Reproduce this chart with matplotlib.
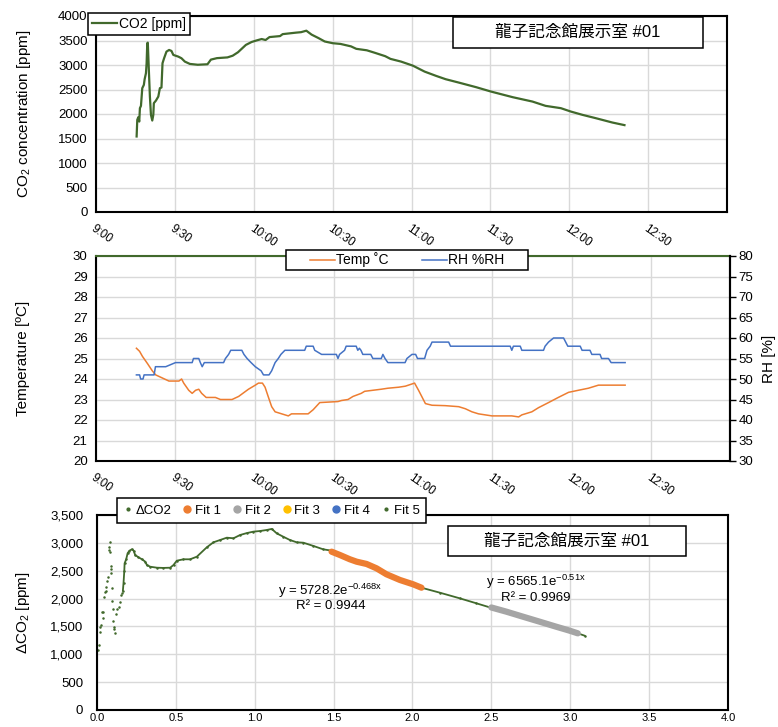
import matplotlib
matplotlib.use('Agg')
import matplotlib.pyplot as plt
from matplotlib.lines import Line2D
from matplotlib.patches import Rectangle
import numpy as np

plt.rcParams['font.family'] = ['Liberation Sans', 'Noto Sans CJK JP']
plt.rcParams['mathtext.fontset'] = 'custom'
plt.rcParams['mathtext.rm'] = 'Liberation Sans'
plt.rcParams['mathtext.it'] = 'Liberation Sans:italic'
plt.rcParams['axes.unicode_minus'] = True

# ---- data (minutes after 9:00) ----
co2_min = [15.45, 15.7, 16.1, 16.45, 16.7, 17.1, 17.6, 18.2, 18.5, 19.0, 19.25, 19.5, 19.7,
           20.1, 20.5, 20.9, 21.4, 21.8, 22.0, 22.8, 23.7, 24.3, 24.9, 25.3, 25.9, 26.8,
           27.8, 28.7, 29.4, 31.3, 32.5, 33.8, 35.7, 38.7, 42.4, 43.7, 46.0, 50.0, 52.0,
           54.0, 57.0, 59.2, 61.0, 63.0, 64.5, 66.0, 70.0, 71.0, 76.0, 78.0, 80.0, 82.0,
           84.6, 87.0, 90.0, 93.0, 97.0, 99.0, 103.0, 106.0, 110.0, 112.0, 116.0, 120.5,
           125.0, 129.4, 133.0, 138.0, 144.6, 150.3, 158.5, 166.0, 171.0, 176.8, 180.6,
           185.0, 190.0, 196.4, 201.0]
co2_ppm = [1541, 1881, 1936, 1846, 2119, 2166, 2527, 2594, 2710, 2833, 3037, 3444, 3456,
           2900, 2356, 1983, 1867, 1983, 2221, 2274, 2356, 2527, 2540, 3037, 3138, 3273,
           3307, 3287, 3206, 3171, 3138, 3069, 3022, 3005, 3015, 3110, 3140, 3155, 3190,
           3260, 3410, 3470, 3500, 3530, 3510, 3570, 3590, 3630, 3660, 3670, 3700, 3620,
           3550, 3480, 3445, 3430, 3380, 3330, 3300, 3250, 3180, 3125, 3070, 2987,
           2865, 2777, 2710, 2641, 2547, 2457, 2343, 2254, 2166, 2119, 2050,
           1983, 1916, 1826, 1773]

temp_min = [15.3, 16.5, 17.6, 19.5, 21.3, 22.6, 25.1, 27.6, 31.4, 32.4, 33.2, 35.1, 36.4,
            37.7, 38.9, 40.0, 41.7, 45.2, 47.1, 51.5, 54.0, 57.7, 60.3, 61.5, 63.0, 64.0,
            65.3, 66.5, 67.8, 70.3, 72.8, 74.0, 80.3, 82.2, 84.7, 91.6, 92.9, 95.4, 97.3,
            100.4, 101.7, 107.9, 110.5, 114.6, 117.1, 120.6, 122.1, 124.7, 127.2, 132.2,
            137.3, 139.8, 142.3, 144.8, 149.9, 157.4, 160.0, 161.2, 165.0, 167.5, 171.3,
            175.0, 178.9, 182.6, 186.4, 190.2, 195.2, 200.3]
temp_c = [25.5, 25.35, 25.1, 24.75, 24.4, 24.2, 24.05, 23.9, 23.9, 24.0, 23.8, 23.45, 23.3,
          23.45, 23.5, 23.3, 23.1, 23.1, 23.0, 23.0, 23.15, 23.5, 23.7, 23.8, 23.8, 23.6,
          23.1, 22.65, 22.4, 22.3, 22.2, 22.3, 22.3, 22.5, 22.85, 22.9, 22.95, 23.0, 23.15,
          23.3, 23.4, 23.5, 23.55, 23.6, 23.65, 23.8, 23.45, 22.8, 22.72, 22.7,
          22.65, 22.55, 22.4, 22.3, 22.2, 22.2, 22.15, 22.25, 22.4, 22.6, 22.85,
          23.1, 23.35, 23.45, 23.55, 23.7, 23.7, 23.7]

rh_min = [15.3, 16.5, 16.9, 17.8, 18.2, 22.0, 22.5, 26.4, 30.1, 36.4, 36.9, 38.9, 39.5,
          40.2, 41.0, 48.3, 49.0, 50.2, 51.0, 55.2, 56.0, 57.2, 58.7, 60.3, 62.5, 63.4,
          65.5, 66.5, 67.8, 69.0, 70.0, 71.5, 79.0, 79.6, 82.2, 82.8, 85.4, 91.0, 91.6,
          92.2, 94.1, 94.7, 98.5, 99.1, 99.7, 100.3, 101.0, 104.0, 104.8, 108.0, 108.6,
          109.4, 110.5, 117.0, 117.7, 119.6, 121.0, 121.7, 124.4, 125.3, 126.5, 127.2,
          133.5, 134.2, 156.8, 157.4, 158.0, 160.6, 161.2, 169.4, 170.0, 171.3, 173.2,
          177.0, 177.8, 178.6, 183.3, 184.0, 187.0, 187.7, 190.8, 191.4, 194.0, 195.0, 200.3]
rh_pct = [51, 51, 50, 50, 51, 51, 53, 53, 54, 54, 55, 55, 54,
          53, 54, 54, 55, 56, 57, 57, 56, 55, 54, 53, 52, 51,
          51, 52, 54, 55, 56, 57, 57, 58, 58, 57, 56, 56, 55,
          56, 57, 58, 58, 57, 57.5, 57, 56, 56, 55, 55, 56,
          55, 54, 54, 55, 56, 56, 55, 55, 57, 58, 59,
          59, 58, 58, 57, 58, 58, 57, 57, 58, 59, 60,
          60, 59, 58, 58, 57, 57, 56, 56, 55, 55, 54, 54]

# elapsed hours vs delta CO2
dco2_x = [0.005, 0.010, 0.017, 0.021, 0.027, 0.032, 0.036, 0.038, 0.042, 0.048, 0.054,
          0.059, 0.063, 0.067, 0.074, 0.078, 0.080, 0.084, 0.086, 0.089, 0.090, 0.092,
          0.095, 0.099, 0.101, 0.105, 0.109, 0.111, 0.120, 0.127, 0.137, 0.143, 0.152,
          0.158, 0.164, 0.168, 0.173, 0.175, 0.185, 0.194, 0.206, 0.221, 0.232, 0.242,
          0.263, 0.285, 0.306, 0.316, 0.337, 0.380, 0.420, 0.464, 0.485, 0.506, 0.548,
          0.590, 0.633, 0.696, 0.738, 0.780, 0.823, 0.865, 0.907, 0.949, 0.991, 1.034,
          1.076, 1.108, 1.139, 1.181, 1.223, 1.266, 1.308, 1.371, 1.434, 1.498, 1.540,
          1.603, 1.646, 1.709, 1.772, 1.835, 1.920, 2.004, 2.057, 2.173, 2.299, 2.405,
          2.489, 2.595, 2.700, 2.806, 2.911, 2.996, 3.048, 3.091]
dco2_y = [1077, 1160, 1484, 1405, 1526, 1765, 1760, 1657, 2034, 2124, 2130,
          2213, 2316, 2382, 2872, 2921, 3021, 2830, 2530, 2590, 2453, 2184,
          1962, 1807, 1603, 1484, 1454, 1388, 1718, 1807, 1843, 1944, 2064,
          2106, 2141, 2274, 2495, 2633, 2705, 2813, 2860, 2884, 2860, 2782,
          2741, 2705, 2662, 2603, 2572, 2554, 2550, 2554, 2603, 2680, 2705,
          2705, 2752, 2920, 3010, 3051, 3093, 3082, 3141, 3175, 3201, 3213,
          3231, 3250, 3171, 3110, 3051, 3010, 3003, 2945, 2884, 2855, 2782,
          2705, 2662, 2621, 2543, 2436, 2334, 2256, 2195, 2106, 2005, 1915,
          1843, 1765, 1675, 1585, 1495, 1424, 1376, 1334]
fit1_x = [1.487, 1.540, 1.603, 1.646, 1.709, 1.772, 1.835, 1.920, 2.004, 2.057]
fit1_y = [2842, 2782, 2705, 2662, 2621, 2543, 2436, 2334, 2256, 2195]
fit2_x = [2.500, 2.595, 2.700, 2.806, 2.911, 2.996, 3.048]
fit2_y = [1840, 1765, 1675, 1585, 1495, 1424, 1376]

time_ticks = [0, 30, 60, 90, 120, 150, 180, 210]
time_labels = ['9:00', '9:30', '10:00', '10:30', '11:00', '11:30', '12:00', '12:30']
title = '龍子記念館展示室 #01'

GREEN = '#41692c'
ORANGE = '#ED7D31'
BLUE = '#4472C4'
GRAY = '#A5A5A5'
GOLD = '#FFC000'
GRID = '#d9d9d9'

W, H = 778, 727


def px_box(l, t, r, b):
    return [l / W, 1 - b / H, (r - l) / W, (b - t) / H]


def style(ax, top_color='black', ypad=6):
    ax.grid(True, color=GRID, lw=1)
    ax.set_axisbelow(True)
    for s in ax.spines.values():
        s.set_linewidth(1.5)
        s.set_color('black')
    ax.spines['top'].set_color(top_color)
    ax.tick_params(length=0, labelsize=9.5)
    ax.tick_params(axis='y', pad=ypad)


def frame_box(l, t, r, b):
    fig.add_artist(Rectangle((l / W, 1 - b / H), (r - l) / W, (b - t) / H,
                             transform=fig.transFigure, facecolor='white',
                             edgecolor='black', lw=1.1))


def title_box(l, t, r, b):
    frame_box(l, t, r, b)
    fig.text((l + r) / 2 / W, 1 - (t + b) / 2 / H, title, ha='center', va='center',
             fontsize=12)


def time_axis(ax):
    ax.set_xlim(0, 240)
    ax.set_xticks(time_ticks)
    ax.set_xticklabels(time_labels, rotation=-35, ha='left', va='top',
                       rotation_mode='anchor', fontsize=8.5)
    ax.tick_params(axis='x', pad=8)


fig = plt.figure(figsize=(W / 100, H / 100), dpi=100)

# ---- panel 1: CO2 ----
ax1 = fig.add_axes(px_box(96, 16, 727, 212))
style(ax1)
ax1.plot(co2_min, co2_ppm, color=GREEN, lw=1.6, label='CO2 [ppm]')
ax1.set_ylim(0, 4000)
ax1.set_yticks(range(0, 4001, 500))
time_axis(ax1)
ax1.set_ylabel('CO$_\\mathregular{2}$ concentration [ppm]', fontsize=11)
ax1.yaxis.set_label_coords(-0.1, 0.5)
leg1 = ax1.legend(loc='upper left', bbox_to_anchor=(88 / W, 1 - 13 / H),
                  bbox_transform=fig.transFigure, borderaxespad=0, fancybox=False,
                  edgecolor='black', framealpha=1, fontsize=10, handlelength=1.8,
                  handletextpad=0.1, borderpad=0.3)
leg1.get_frame().set_linewidth(1.1)
title_box(453, 17, 703, 48)

# ---- panel 2: temperature / RH ----
ax2 = fig.add_axes(px_box(96, 256, 730, 461))
style(ax2, top_color=GREEN)
l_t, = ax2.plot(temp_min, temp_c, color=ORANGE, lw=1.1, label='Temp \u02daC')
ax2.set_ylim(20, 30)
ax2.set_yticks(range(20, 31))
time_axis(ax2)
ax2.set_ylabel('Temperature [ºC]', fontsize=11)
ax2.yaxis.set_label_coords(-0.104, 0.5)
ax2r = ax2.twinx()
l_r, = ax2r.plot(rh_min, rh_pct, color=BLUE, lw=1.1, label='RH %RH')
ax2r.set_ylim(30, 80)
ax2r.set_yticks(range(30, 81, 5))
for s in ax2r.spines.values():
    s.set_visible(False)
ax2r.tick_params(axis='y', length=4, width=1, labelsize=9.5, pad=2)
ax2r.set_ylabel('RH [%]', fontsize=11)
ax2r.yaxis.set_label_coords(1.051, 0.5)
ax2r.spines['right'].set_visible(True)
ax2r.spines['right'].set_linewidth(1.5)
frame_box(286, 250, 528, 270)
leg2 = fig.legend([l_t, l_r], [l_t.get_label(), l_r.get_label()], ncol=2,
                  loc='center', bbox_to_anchor=(407 / W, 1 - 260 / H),
                  frameon=False, fontsize=10, handlelength=1.8,
                  handletextpad=0.1, columnspacing=2.4, borderpad=0)
leg2.set_zorder(5)

# ---- panel 3: delta CO2 vs elapsed hours ----
ax3 = fig.add_axes(px_box(97, 515, 728, 710))
style(ax3, ypad=10)
dx = np.array(dco2_x)
dy = np.array(dco2_y)
dense = dx >= 0.16
ax3.plot(dx[dense], dy[dense], color=GREEN, lw=1.3, zorder=2)
ax3.plot(dx, dy, 'o', color=GREEN, ms=1.8, mew=0, zorder=2)
ax3.plot(fit1_x, fit1_y, color=ORANGE, lw=4.5, solid_capstyle='round', zorder=3)
ax3.plot(fit2_x, fit2_y, color=GRAY, lw=4.5, solid_capstyle='round', zorder=3)
ax3.set_xlim(0, 4)
ax3.set_xticks(np.arange(0, 4.01, 0.5))
ax3.set_xticklabels([f'{v:.1f}' for v in np.arange(0, 4.01, 0.5)], fontsize=8)
ax3.set_ylim(0, 3500)
ax3.set_yticks(range(0, 3501, 500))
ax3.set_yticklabels([f'{v:,}' for v in range(0, 3501, 500)])
ax3.tick_params(axis='x', pad=2)
ax3.set_ylabel('ΔCO$_\\mathregular{2}$ [ppm]', fontsize=11)
ax3.yaxis.set_label_coords(-0.103, 0.5)
ax3.text(1.48, 2030, 'y = 5728.2e$^{\\mathregular{-0.468x}}$\nR² = 0.9944', ha='center',
         va='center', fontsize=9.5, multialignment='center', linespacing=1.1)
ax3.text(2.78, 2190, 'y = 6565.1e$^{\\mathregular{-0.51x}}$\nR² = 0.9969', ha='center',
         va='center', fontsize=9.5, multialignment='center', linespacing=1.1)

handles = [Line2D([], [], ls='', marker='o', ms=2, color=GREEN),
           Line2D([], [], ls='', marker='o', ms=5, color=ORANGE),
           Line2D([], [], ls='', marker='o', ms=5, color=GRAY),
           Line2D([], [], ls='', marker='o', ms=5, color=GOLD),
           Line2D([], [], ls='', marker='o', ms=5, color=BLUE),
           Line2D([], [], ls='', marker='o', ms=2, color=GREEN)]
names = ['ΔCO2', 'Fit 1', 'Fit 2', 'Fit 3', 'Fit 4', 'Fit 5']
leg3 = ax3.legend(handles, names, ncol=6, loc='upper left', bbox_to_anchor=(117 / W, 1 - 498 / H),
                  bbox_transform=fig.transFigure, borderaxespad=0, fancybox=False,
                  edgecolor='black', framealpha=1, fontsize=9.5, handlelength=0.6,
                  handletextpad=0.3, columnspacing=0.9, borderpad=0.5)
leg3.get_frame().set_linewidth(1.1)
title_box(448, 526, 686, 556)

fig.savefig('out.png', dpi=100)
